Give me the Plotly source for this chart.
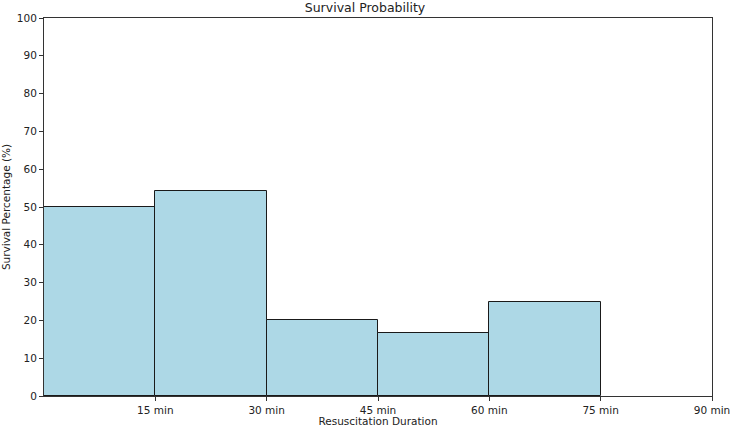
import plotly.graph_objects as go

bin_starts = [0, 15, 30, 45, 60]
survival_pct = [50, 54.2, 20, 16.6, 25]
tick_vals = [15, 30, 45, 60, 75, 90]
tick_labels = ["15 min", "30 min", "45 min", "60 min", "75 min", "90 min"]

fig = go.Figure(go.Bar(
    x=bin_starts, y=survival_pct, width=[15]*len(bin_starts), offset=0,
    marker=dict(color="#ADD8E6", line=dict(color="#1a1a1a", width=1)),
))

axis_common = dict(showline=True, linecolor="#333", linewidth=1, mirror=True,
                   showgrid=False, zeroline=False, ticks="outside", ticklen=4,
                   tickcolor="#333", tickfont=dict(size=10.5, color="#222"),
                   automargin=False, ticklabeloverflow="allow")

fig.update_layout(
    width=730, height=427,
    margin=dict(l=44, r=18, t=18, b=31),
    paper_bgcolor="white", plot_bgcolor="white",
    font=dict(family="DejaVu Sans", color="#222"),
    title=dict(text="Survival Probability", x=0.5, xanchor="center",
               yref="container", y=0.982, yanchor="middle", font=dict(size=12.5)),
    showlegend=False, bargap=0,
)
fig.update_xaxes(range=[0, 90], tickvals=tick_vals, ticktext=tick_labels,
                 title=dict(text="Resuscitation Duration", font=dict(size=10.5), standoff=2),
                 **axis_common)
fig.update_yaxes(range=[0, 100], dtick=10,
                 title=dict(text="Survival Percentage (%)", font=dict(size=10.5), standoff=4),
                 **axis_common)

fig.write_html("out.html", config={"displayModeBar": False},
               post_script="document.body.style.margin='0';document.body.style.padding='0';")
